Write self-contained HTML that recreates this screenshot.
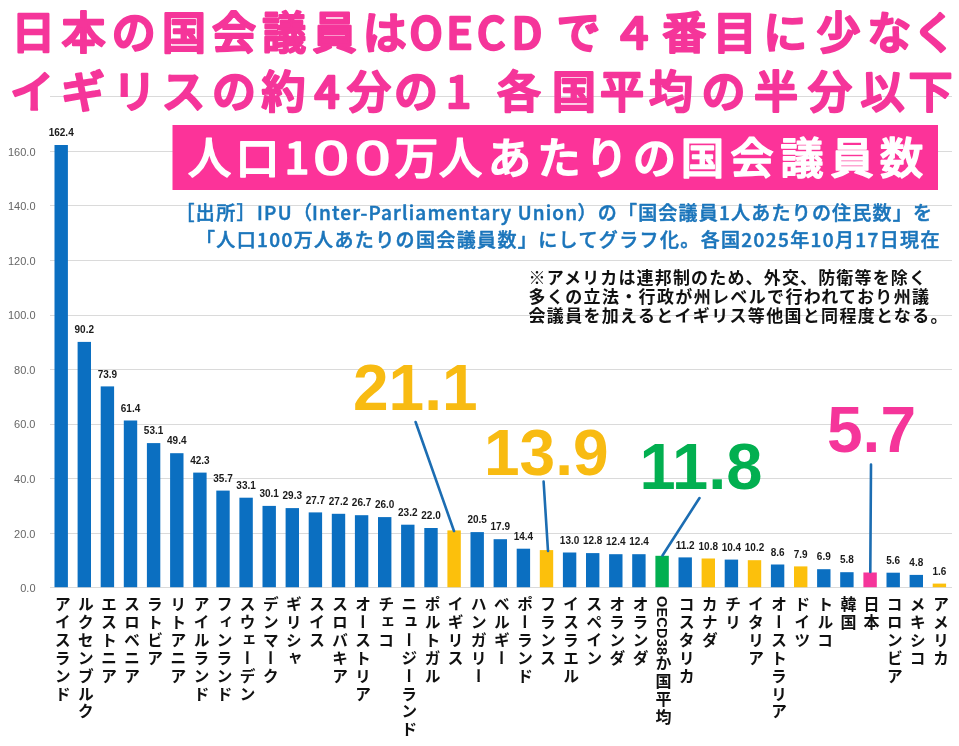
<!DOCTYPE html>
<html lang="ja">
<head>
<meta charset="utf-8">
<title>人口100万人あたりの国会議員数</title>
<style>
html,body{margin:0;padding:0;background:#fff;}
body{width:959px;height:746px;overflow:hidden;position:relative;font-family:"Liberation Sans","Noto Sans CJK JP",sans-serif;}
svg{position:absolute;left:0;top:0;display:block;}
text{font-family:"Liberation Sans","Noto Sans CJK JP",sans-serif;}
.jp{font-family:"Noto Sans CJK JP","Liberation Sans",sans-serif;}
.ttl{font-family:"Noto Sans CJK JP","Liberation Sans",sans-serif;font-weight:500;font-size:44px;fill:#f5359a;stroke:#f5359a;stroke-width:2.4px;stroke-linejoin:round;stroke-linecap:round;text-anchor:middle;}
.ban{font-family:"Noto Sans CJK JP","Liberation Sans",sans-serif;font-weight:500;font-size:43.5px;fill:#fff;stroke:#fff;stroke-width:1.5px;stroke-linejoin:round;text-anchor:middle;}
.src{font-family:"Noto Sans CJK JP","Liberation Sans",sans-serif;font-weight:500;font-size:19px;fill:#1b75bb;stroke:#1b75bb;stroke-width:.5px;stroke-linejoin:round;}
.note{font-family:"Noto Sans CJK JP","Liberation Sans",sans-serif;font-weight:700;font-size:17px;fill:#111;}
.ax{font-size:11px;fill:#666;text-anchor:end;}
.val{font-size:10px;font-weight:700;fill:#1a1a1a;text-anchor:middle;}
.big{font-family:"Liberation Sans",sans-serif;font-weight:700;font-size:64px;}
.cat{font-family:"Noto Sans CJK JP","Liberation Sans",sans-serif;font-weight:700;font-size:16px;fill:#111;writing-mode:vertical-rl;letter-spacing:1.9px;}
.cat .lt{font-size:14.5px;letter-spacing:0.2px;}
</style>
</head>
<body>
<svg width="959" height="746" viewBox="0 0 959 746">
<rect x="0" y="0" width="959" height="746" fill="#ffffff"/>

<g stroke="#dadada" stroke-width="1" shape-rendering="crispEdges">
<line x1="50" y1="587.7" x2="952" y2="587.7"/>
<line x1="50" y1="533.2" x2="952" y2="533.2"/>
<line x1="50" y1="478.6" x2="952" y2="478.6"/>
<line x1="50" y1="424.1" x2="952" y2="424.1"/>
<line x1="50" y1="369.5" x2="952" y2="369.5"/>
<line x1="50" y1="315.0" x2="952" y2="315.0"/>
<line x1="50" y1="260.5" x2="952" y2="260.5"/>
<line x1="50" y1="205.9" x2="952" y2="205.9"/>
<line x1="50" y1="151.4" x2="952" y2="151.4"/>
<line x1="50" y1="96.8" x2="952" y2="96.8"/>
</g>
<g class="ax">
<text x="35.5" y="592.0">0.0</text>
<text x="35.5" y="537.5">20.0</text>
<text x="35.5" y="482.9">40.0</text>
<text x="35.5" y="428.4">60.0</text>
<text x="35.5" y="373.8">80.0</text>
<text x="35.5" y="319.3">100.0</text>
<text x="35.5" y="264.8">120.0</text>
<text x="35.5" y="210.2">140.0</text>
<text x="35.5" y="155.7">160.0</text>
</g>
<rect x="54.5" y="145.0" width="13.4" height="442.2" fill="#0b6fc1"/>
<rect x="77.6" y="341.9" width="13.4" height="245.3" fill="#0b6fc1"/>
<rect x="100.7" y="386.4" width="13.4" height="200.8" fill="#0b6fc1"/>
<rect x="123.8" y="420.5" width="13.4" height="166.7" fill="#0b6fc1"/>
<rect x="146.9" y="443.1" width="13.4" height="144.1" fill="#0b6fc1"/>
<rect x="170.1" y="453.2" width="13.4" height="134.0" fill="#0b6fc1"/>
<rect x="193.2" y="472.6" width="13.4" height="114.6" fill="#0b6fc1"/>
<rect x="216.3" y="490.6" width="13.4" height="96.6" fill="#0b6fc1"/>
<rect x="239.4" y="497.7" width="13.4" height="89.5" fill="#0b6fc1"/>
<rect x="262.5" y="505.9" width="13.4" height="81.3" fill="#0b6fc1"/>
<rect x="285.6" y="508.1" width="13.4" height="79.1" fill="#0b6fc1"/>
<rect x="308.7" y="512.4" width="13.4" height="74.8" fill="#0b6fc1"/>
<rect x="331.8" y="513.8" width="13.4" height="73.4" fill="#0b6fc1"/>
<rect x="354.9" y="515.2" width="13.4" height="72.0" fill="#0b6fc1"/>
<rect x="378.0" y="517.1" width="13.4" height="70.1" fill="#0b6fc1"/>
<rect x="401.1" y="524.7" width="13.4" height="62.5" fill="#0b6fc1"/>
<rect x="424.3" y="528.0" width="13.4" height="59.2" fill="#0b6fc1"/>
<rect x="447.4" y="530.4" width="13.4" height="56.8" fill="#fcc00c"/>
<rect x="470.5" y="532.1" width="13.4" height="55.1" fill="#0b6fc1"/>
<rect x="493.6" y="539.2" width="13.4" height="48.0" fill="#0b6fc1"/>
<rect x="516.7" y="548.7" width="13.4" height="38.5" fill="#0b6fc1"/>
<rect x="539.8" y="550.1" width="13.4" height="37.1" fill="#fcc00c"/>
<rect x="562.9" y="552.5" width="13.4" height="34.7" fill="#0b6fc1"/>
<rect x="586.0" y="553.1" width="13.4" height="34.1" fill="#0b6fc1"/>
<rect x="609.1" y="554.2" width="13.4" height="33.0" fill="#0b6fc1"/>
<rect x="632.2" y="554.2" width="13.4" height="33.0" fill="#0b6fc1"/>
<rect x="655.4" y="555.8" width="13.4" height="31.4" fill="#02af50"/>
<rect x="678.5" y="557.4" width="13.4" height="29.8" fill="#0b6fc1"/>
<rect x="701.6" y="558.5" width="13.4" height="28.7" fill="#fcc00c"/>
<rect x="724.7" y="559.6" width="13.4" height="27.6" fill="#0b6fc1"/>
<rect x="747.8" y="560.2" width="13.4" height="27.0" fill="#fcc00c"/>
<rect x="770.9" y="564.5" width="13.4" height="22.7" fill="#0b6fc1"/>
<rect x="794.0" y="566.4" width="13.4" height="20.8" fill="#fcc00c"/>
<rect x="817.1" y="569.2" width="13.4" height="18.0" fill="#0b6fc1"/>
<rect x="840.2" y="572.2" width="13.4" height="15.0" fill="#0b6fc1"/>
<rect x="863.4" y="572.5" width="13.4" height="14.7" fill="#f5359a"/>
<rect x="886.5" y="572.7" width="13.4" height="14.5" fill="#0b6fc1"/>
<rect x="909.6" y="574.9" width="13.4" height="12.3" fill="#0b6fc1"/>
<rect x="932.7" y="583.6" width="13.4" height="3.6" fill="#fcc00c"/>
<g class="val">
<text x="61.2" y="136.2">162.4</text>
<text x="84.3" y="333.1">90.2</text>
<text x="107.4" y="377.6">73.9</text>
<text x="130.5" y="411.7">61.4</text>
<text x="153.6" y="434.3">53.1</text>
<text x="176.8" y="444.4">49.4</text>
<text x="199.9" y="463.8">42.3</text>
<text x="223.0" y="481.8">35.7</text>
<text x="246.1" y="488.9">33.1</text>
<text x="269.2" y="497.1">30.1</text>
<text x="292.3" y="499.3">29.3</text>
<text x="315.4" y="503.6">27.7</text>
<text x="338.5" y="505.0">27.2</text>
<text x="361.6" y="506.4">26.7</text>
<text x="384.7" y="508.3">26.0</text>
<text x="407.8" y="515.9">23.2</text>
<text x="431.0" y="519.2">22.0</text>
<text x="477.2" y="523.3">20.5</text>
<text x="500.3" y="530.4">17.9</text>
<text x="523.4" y="539.9">14.4</text>
<text x="569.6" y="543.7">13.0</text>
<text x="592.7" y="544.3">12.8</text>
<text x="615.8" y="545.4">12.4</text>
<text x="639.0" y="545.4">12.4</text>
<text x="685.2" y="548.6">11.2</text>
<text x="708.3" y="549.7">10.8</text>
<text x="731.4" y="550.8">10.4</text>
<text x="754.5" y="551.4">10.2</text>
<text x="777.6" y="555.7">8.6</text>
<text x="800.7" y="557.6">7.9</text>
<text x="823.8" y="560.4">6.9</text>
<text x="846.9" y="563.4">5.8</text>
<text x="893.2" y="563.9">5.6</text>
<text x="916.3" y="566.1">4.8</text>
<text x="939.4" y="574.8">1.6</text>
</g>
<g class="cat">
<text x="61.2" y="596">アイスランド</text>
<text x="84.3" y="596">ルクセンブルク</text>
<text x="107.4" y="596">エストニア</text>
<text x="130.5" y="596">スロベニア</text>
<text x="153.6" y="596">ラトビア</text>
<text x="176.8" y="596">リトアニア</text>
<text x="199.9" y="596">アイルランド</text>
<text x="223.0" y="596">フィンランド</text>
<text x="246.1" y="596">スウェーデン</text>
<text x="269.2" y="596">デンマーク</text>
<text x="292.3" y="596">ギリシャ</text>
<text x="315.4" y="596">スイス</text>
<text x="338.5" y="596">スロバキア</text>
<text x="361.6" y="596">オーストリア</text>
<text x="384.7" y="596">チェコ</text>
<text x="407.8" y="596">ニュージーランド</text>
<text x="431.0" y="596">ポルトガル</text>
<text x="454.1" y="596">イギリス</text>
<text x="477.2" y="596">ハンガリー</text>
<text x="500.3" y="596">ベルギー</text>
<text x="523.4" y="596">ポーランド</text>
<text x="546.5" y="596">フランス</text>
<text x="569.6" y="596">イスラエル</text>
<text x="592.7" y="596">スペイン</text>
<text x="615.8" y="596">オランダ</text>
<text x="639.0" y="596">オランダ</text>
<text x="662.1" y="596"><tspan class="lt">OECD38</tspan>か国平均</text>
<text x="685.2" y="596">コスタリカ</text>
<text x="708.3" y="596">カナダ</text>
<text x="731.4" y="596">チリ</text>
<text x="754.5" y="596">イタリア</text>
<text x="777.6" y="596">オーストラリア</text>
<text x="800.7" y="596">ドイツ</text>
<text x="823.8" y="596">トルコ</text>
<text x="846.9" y="596">韓国</text>
<text x="870.1" y="596">日本</text>
<text x="893.2" y="596">コロンビア</text>
<text x="916.3" y="596">メキシコ</text>
<text x="939.4" y="596">アメリカ</text>
</g>
<text class="ttl" y="48.5" x="33.3 83.5 133.7 183.9 234.1 284.3 334.5 384.7 426.0 459.5 491.3 527.0 578.5 633.7 684.2 734.8 785.3 838.5 889.2 934.5">日本の国会議員はOECDで４番目に少なく</text>
<text class="ttl" y="107.5" x="32.0 83.0 134.5 183.5 234.0 283.6 327.0 369.0 416.0 458.5 486.0 519.0 574.0 622.0 671.0 723.5 776.0 830.0 882.5 930.5">イギリスの約4分の1 各国平均の半分以下</text>
<rect x="172.5" y="125" width="765.5" height="65" fill="#fc3399"/>
<text class="ban" y="174" x="209.5 257.6">人口</text>
<text class="ban" x="297" y="174">1</text>
<text class="ban" style="font-weight:400" transform="translate(331 174) scale(1.5 1)" x="0" y="0">0</text>
<text class="ban" style="font-weight:400" transform="translate(372.7 174) scale(1.5 1)" x="0" y="0">0</text>
<text class="ban" y="174" x="416.5 460.5 509.5 559.0 606.5 654.5 702.5 752.0 802.0 852.0 901.5">万人あたりの国会議員数</text>
<text class="src" x="175.5" y="219.5" textLength="136.5" lengthAdjust="spacing">［出所］IPU（</text>
<text class="src" x="312" y="219.5" textLength="265" lengthAdjust="spacing">Inter-Parliamentary Union</text>
<text class="src" x="577.5" y="219.5" textLength="354.5" lengthAdjust="spacing">）の「国会議員1人あたりの住民数」を</text>
<text class="src" x="196" y="246.5" textLength="743.5" lengthAdjust="spacing">「人口100万人あたりの国会議員数」にしてグラフ化。各国2025年10月17日現在</text>
<text class="note" x="528.5" y="283.5" textLength="397.5" lengthAdjust="spacing">※アメリカは連邦制のため、外交、防衛等を除く</text>
<text class="note" x="528.5" y="302.5" textLength="400.5" lengthAdjust="spacing">多くの立法・行政が州レベルで行われており州議</text>
<text class="note" x="528.5" y="322" textLength="419" lengthAdjust="spacing">会議員を加えるとイギリス等他国と同程度となる。</text>
<g stroke="#1c6db2" stroke-width="2.6" stroke-linecap="round">
<line x1="415.6" y1="422" x2="454" y2="531"/>
<line x1="543.6" y1="481.5" x2="548" y2="551"/>
<line x1="699.5" y1="498" x2="662.5" y2="555.5"/>
<line x1="871" y1="464.5" x2="870.3" y2="572"/>
</g>
<text class="big" x="353" y="410" fill="#f8bb12">21.1</text>
<text class="big" x="484" y="474.5" fill="#f8bb12">13.9</text>
<text class="big" style="font-size:65px" x="639.5" y="488.5" fill="#02af50">11.8</text>
<text class="big" x="827" y="452" fill="#f5359a">5.7</text>
</svg>
</body>
</html>
